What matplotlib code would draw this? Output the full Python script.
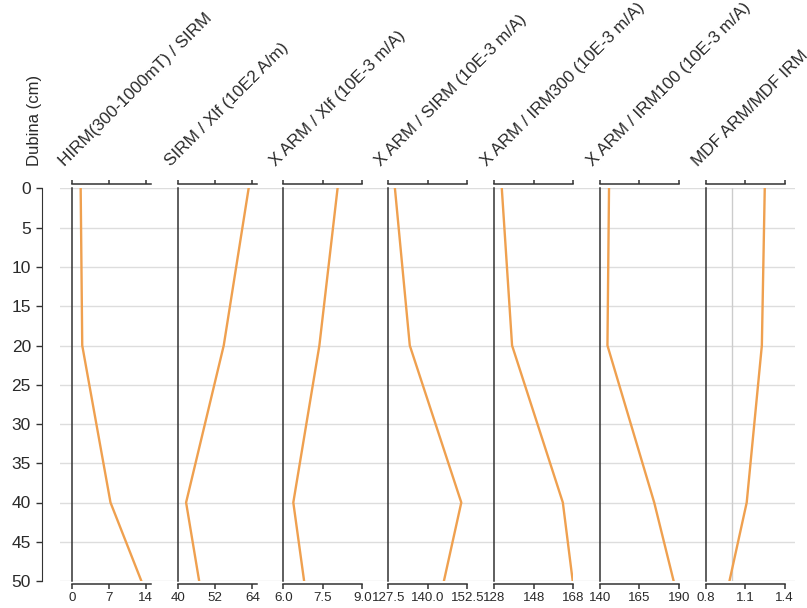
import matplotlib
matplotlib.use("Agg")
import matplotlib.pyplot as plt

# depth profile (cm) and the seven magnetic ratios
depth = [0, 20, 40, 50]

titles = [
    "HIRM(300-1000mT) / SIRM",
    "SIRM / Xlf (10E2 A/m)",
    "X ARM / Xlf (10E-3 m/A)",
    "X ARM / SIRM (10E-3 m/A)",
    "X ARM / IRM300 (10E-3 m/A)",
    "X ARM / IRM100 (10E-3 m/A)",
    "MDF ARM/MDF IRM",
]

hirm_sirm = [1.6, 1.9, 7.3, 13.2]
sirm_xlf = [62.8, 54.8, 42.7, 46.9]
xarm_xlf = [8.06, 7.37, 6.38, 6.79]
xarm_sirm = [129.6, 134.3, 150.6, 145.1]
xarm_irm300 = [131.8, 137.0, 162.7, 167.7]
xarm_irm100 = [145.9, 144.9, 174.5, 186.8]
mdf_ratio = [1.25, 1.228, 1.113, 0.982]

series = [hirm_sirm, sirm_xlf, xarm_xlf, xarm_sirm, xarm_irm300, xarm_irm100, mdf_ratio]

x_limits = [(0, 15.1), (40, 65.4), (6.0, 9.0), (127.5, 152.5), (128, 168), (140, 190), (0.8, 1.4)]
x_ticks = [
    [0, 7, 14],
    [40, 52, 64],
    [6.0, 7.5, 9.0],
    [127.5, 140.0, 152.5],
    [128, 148, 168],
    [140, 165, 190],
    [0.8, 1.1, 1.4],
]
x_ticklabels = [
    ["0", "7", "14"],
    ["40", "52", "64"],
    ["6.0", "7.5", "9.0"],
    ["127.5", "140.0", "152.5"],
    ["128", "148", "168"],
    ["140", "165", "190"],
    ["0.8", "1.1", "1.4"],
]
y_ticks = [0, 5, 10, 15, 20, 25, 30, 35, 40, 45, 50]

plt.rcParams["font.family"] = ["Liberation Sans", "DejaVu Sans"]

W, H = 807, 608
fig = plt.figure(figsize=(W / 100, H / 100), dpi=100)

bottom = 1 - 581 / H
height = (581 - 188.5) / H
px = 72 / 100  # points per pixel
ink = "#2a2a2a"

# background axes: depth axis + horizontal grid
bg = fig.add_axes([60 / W, bottom, (795 - 60) / W, height])
bg.set_ylim(50, 0)
bg.set_xlim(0, 1)
bg.set_xticks([])
bg.set_yticks(y_ticks)
bg.yaxis.grid(True, color="#dddddd", linewidth=1)
for s in ["top", "right", "bottom"]:
    bg.spines[s].set_visible(False)
bg.spines["left"].set_position(("outward", 18 * px))
bg.spines["left"].set_color("#333333")
bg.tick_params(axis="y", length=6 * px, width=1, color="#333333",
               labelsize=12.5, labelcolor=ink, pad=5 * px)
fig.text(34 / W, 1 - 120 / H, "Dubina (cm)", rotation=90, ha="center", va="center",
         fontsize=12, color=ink)

starts = [72.3, 177.7, 283.3, 388.3, 494.3, 599.7, 705.5]
for i, vals in enumerate(series):
    ax = fig.add_axes([starts[i] / W, bottom, 79 / W, height], facecolor="none")
    ax.plot(vals, depth, color="#efa04f", linewidth=1.7, zorder=3)
    if i == 6:
        ax.axvline(1.0, color="#cccccc", linewidth=1, zorder=1)
    ax.set_xlim(*x_limits[i])
    ax.set_ylim(50, 0)
    ax.set_yticks([])
    ax.spines["right"].set_visible(False)
    ax.spines["left"].set_color("#333333")
    ax.spines["left"].set_linewidth(1.1)
    for s in ["top", "bottom"]:
        ax.spines[s].set_color("#333333")
        ax.spines[s].set_linewidth(1.1)
    ax.spines["top"].set_position(("outward", 4 * px))
    ax.spines["bottom"].set_position(("outward", 2.5 * px))
    ax.set_xticks(x_ticks[i])
    ax.set_xticklabels(x_ticklabels[i])
    ax.tick_params(axis="x", top=True, bottom=True, labeltop=False, labelbottom=True,
                   direction="out", length=4.5 * px, width=1.1, color="#333333",
                   labelsize=9.6, labelcolor=ink, pad=3)
    fig.text((starts[i] - 7) / W, 1 - 167 / H, titles[i], rotation=45,
             rotation_mode="anchor", ha="left", va="baseline",
             fontsize=12.3, color=ink)

fig.savefig("out.png", dpi=100)
